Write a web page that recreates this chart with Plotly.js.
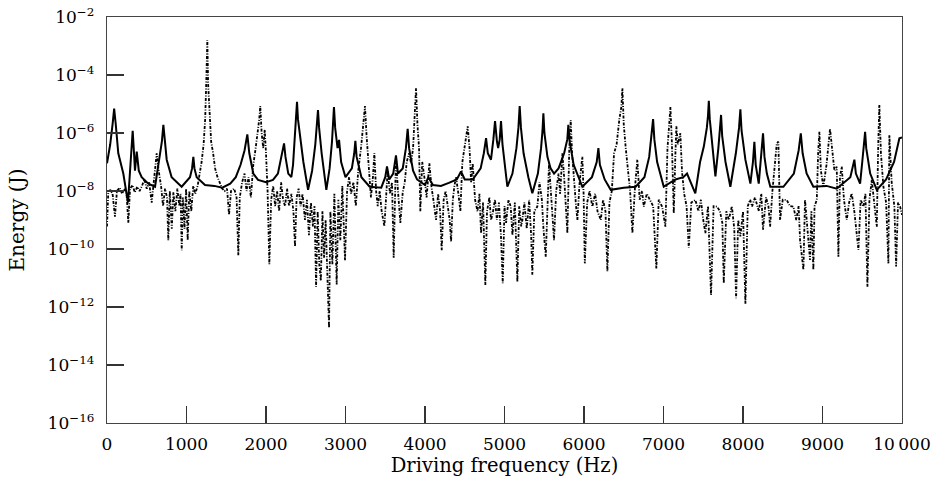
<!DOCTYPE html>
<html>
<head>
<meta charset="utf-8">
<script src="https://cdn.plot.ly/plotly-3.0.1.min.js"></script>
<style>html,body{margin:0;padding:0;background:#fff;}</style>
</head>
<body>
<div id="chart" style="width:935px;height:495px;"></div>
<script>
// Solid curve: driving frequency (Hz) and energy (J)
const solidFreq = [
  0,40,70,90,110,142,205,264,290,310,323,340,352,374,400,436,520,604,667,690,709,725,751,813,939,
  1044,1070,1086,1100,1128,1233,1350,1450,1550,1620,1680,1730,1765,1790,1840,1900,2000,
  2088,2150,2190,2215,2227,2245,2280,2319,2340,2365,2380,2390,2402,2430,2470,2529,2580,2620,2640,2654,2668,2700,2759,2800,2830,2845,2855,2870,2900,2919,2945,3000,
  3080,3110,3124,3140,3200,3304,3450,3500,3522,3550,3600,3635,3660,3720,3760,3782,3800,3850,3900,4000,
  4042,4100,4200,4300,4400,4453,4500,4600,4700,4740,4768,4790,4830,4860,4881,4905,4920,4940,4956,4975,4994,
  5036,5100,5150,5175,5191,5207,5240,5300,5350,5420,5460,5478,5489,5502,5540,5580,5623,5680,5750,5790,5803,5820,5870,5979,
  6100,6160,6181,6200,6260,6336,6500,6650,6760,6820,6850,6869,6885,6920,7003,
  7150,7250,7296,7400,7460,7507,7545,7560,7570,7582,7610,7653,7690,7712,7724,7738,7780,7841,7910,7950,7967,7982,
  8030,8093,8125,8143,8160,8198,8230,8252,8270,8300,8344,8508,8640,8700,8727,8750,8800,8885,
  9050,9179,9350,9390,9401,9420,9473,9500,9525,9536,9550,9600,9683,9800,9900,9967,10000
];
const solidEnergy = [
  9e-8,4e-7,2e-6,7e-6,2e-6,2e-7,4e-8,4e-9,5e-8,3e-7,1.2e-6,2e-7,5e-8,2.3e-7,5e-8,3e-8,1.8e-8,1.4e-8,2e-7,5e-7,1.9e-6,5e-7,1.2e-7,3e-8,1.4e-8,
  3e-8,6e-8,1.5e-7,6e-8,3e-8,1.6e-8,1.5e-8,1.3e-8,1.8e-8,3e-8,8e-8,2.5e-7,9e-7,2e-7,4e-8,2.4e-8,2e-8,
  2.4e-8,4e-8,1.2e-7,3e-7,4.4e-7,1.5e-7,4e-8,3e-8,8e-8,8e-7,3e-6,1.2e-5,3e-6,6e-7,1e-7,1.1e-8,5e-8,4e-7,1.6e-6,6.2e-6,1.5e-6,2e-7,1.1e-8,6e-8,5e-7,2e-6,7.8e-6,1.5e-6,3e-7,5.8e-7,1e-7,3e-8,
  6e-8,2e-7,5.4e-7,1.5e-7,3e-8,1.4e-8,1.3e-8,3e-8,7e-8,2.5e-8,4e-8,1.7e-7,4e-8,6e-8,3e-7,1.4e-6,3e-7,5e-8,2.5e-8,1.6e-8,
  3e-8,1.6e-8,1.5e-8,1.9e-8,2.5e-8,4.7e-8,2.5e-8,2.5e-8,6e-8,2e-7,6.6e-7,2e-7,1.2e-7,6e-7,2.6e-6,5e-7,3e-7,6e-7,2.6e-6,4e-7,1.2e-7,
  1.4e-8,4e-8,3e-7,1.5e-6,8.5e-6,1.5e-6,2e-7,3e-8,8.3e-9,4e-8,3e-7,1.2e-6,4.8e-6,1e-6,1.5e-7,6e-8,4e-8,6e-8,2e-7,6e-7,1.9e-6,5e-7,8e-8,1.4e-8,
  3e-8,1e-7,3e-7,8e-8,2.5e-8,1.1e-8,1.3e-8,1.4e-8,3e-8,1.5e-7,7e-7,3e-6,6e-7,1e-7,1.4e-8,
  2.5e-8,3e-8,4e-8,8.3e-9,1e-7,3.4e-7,1.5e-6,4e-6,1.3e-5,3e-6,4e-7,3.2e-8,3e-7,1.2e-6,4.2e-6,8e-7,1e-7,1.4e-8,2e-7,1.5e-6,6.6e-6,1.2e-6,
  1.2e-7,1.8e-8,1e-7,5e-7,8e-8,1.8e-8,1.5e-7,9.8e-7,1.5e-7,4e-8,1.4e-8,1.4e-8,4e-8,2.5e-7,9.8e-7,2e-7,4e-8,1.4e-8,
  1.5e-8,1.2e-8,3e-8,8e-8,1.2e-7,4e-8,1.8e-8,1e-7,4e-7,1.1e-6,3e-7,4e-8,1.1e-8,2.5e-8,1e-7,6.6e-7,7e-7
];

// Dash-dot curve: driving frequency (Hz) and energy (J)
const dashFreq = [
  0,15,40,70,100,125,160,190,220,245,268,290,320,350,380,410,440,470,500,530,562,590,615,625,650,680,705,730,755,771,790,815,835,860,885,910,925,940,955,975,995,
  1015,1035,1060,1085,1110,1140,1165,1190,1215,1235,1250,1262,1272,1290,1310,1335,1360,1390,1420,1450,1480,1510,1535,1560,1600,1630,1652,1670,1700,1730,1755,1780,1810,1840,1870,1895,1915,1928,1945,1965,1984,2000,
  2020,2042,2065,2090,2115,2140,2165,2190,2215,2240,2265,2290,2320,2345,2365,2385,2410,2435,2460,2490,2515,2540,2565,2590,2610,2630,2650,2670,2690,2710,2730,2750,2770,2793,2810,2835,2860,2889,2910,2935,2960,2994,
  3020,3045,3070,3100,3130,3160,3195,3225,3245,3265,3290,3320,3345,3363,3385,3405,3430,3455,3489,3510,3530,3560,3585,3606,3625,3635,3660,3690,3719,3745,3770,3800,3824,3850,3870,3887,3905,3925,3941,3965,3992,
  4020,4055,4080,4110,4139,4165,4190,4210,4235,4260,4290,4310,4328,4350,4370,4390,4420,4445,4470,4500,4537,4560,4580,4600,4630,4660,4685,4705,4730,4759,4780,4810,4830,4852,4880,4905,4930,4955,4978,5000,
  5020,5050,5078,5100,5130,5162,5185,5210,5225,5250,5280,5310,5335,5350,5375,5413,5440,5470,5490,5519,5540,5560,5590,5623,5650,5680,5700,5728,5750,5775,5791,5815,5833,5850,5875,5900,5917,5945,5979,5995,
  6010,6040,6070,6105,6140,6170,6211,6240,6270,6294,6320,6350,6378,6410,6445,6470,6483,6500,6525,6550,6580,6609,6640,6671,6700,6730,6752,6790,6835,6870,6910,6940,6982,
  7024,7050,7070,7087,7105,7129,7150,7162,7180,7212,7233,7260,7290,7318,7350,7401,7440,7470,7500,7527,7560,7598,7630,7674,7710,7740,7758,7790,7821,7860,7890,7913,7940,7967,8000,
  8030,8060,8090,8114,8150,8200,8230,8252,8290,8320,8341,8370,8400,8425,8445,8466,8500,8551,8590,8634,8670,8700,8718,8760,8780,8802,8843,8860,8885,8900,8928,8945,8961,8980,
  9011,9050,9080,9095,9120,9150,9179,9200,9220,9242,9270,9305,9335,9368,9400,9452,9480,9515,9540,9565,9590,9620,9650,9683,9700,9715,9735,9766,9800,9829,9841,9870,9904,9926,9950,9976,10000
];
const dashEnergy = [
  6e-10,8e-9,1.1e-8,8e-9,1.3e-9,1e-8,1.3e-8,8e-9,1.1e-8,9e-9,8e-10,1.2e-8,1.6e-8,9e-9,1.4e-8,1e-8,1.5e-8,2.5e-8,1.2e-8,2e-8,4e-9,3e-8,1.2e-7,2e-7,5e-8,1.5e-8,3e-9,1.2e-8,6e-9,2e-10,1e-8,5e-10,9e-9,2e-9,1.2e-8,3e-9,8e-9,9e-11,6e-9,5e-10,1.2e-8,
  2e-10,1e-8,2e-9,1.5e-8,8e-9,1.5e-8,4e-8,1e-7,4e-7,3e-6,8e-5,1.6e-3,5e-5,4e-6,5e-7,2e-7,6e-8,3e-8,2e-8,1.2e-8,1e-8,1.2e-8,1.5e-9,1e-8,1.2e-8,6e-9,6e-11,6e-9,2e-8,4e-8,1e-8,3e-8,6e-9,8e-8,3e-7,1e-6,3e-6,8.5e-6,1e-6,3e-7,1.3e-6,2e-7,
  1e-8,3e-11,5e-9,1.5e-8,3e-9,1e-8,2e-9,2e-8,5e-9,3e-9,1.2e-8,3e-9,8e-9,2e-9,1.2e-10,6e-9,1.2e-8,3e-9,8e-9,1e-9,5e-9,3e-10,4e-9,6e-10,3e-9,5e-12,2e-9,3e-11,8e-12,2e-9,5e-11,1e-9,8e-12,1.9e-13,2e-9,3e-11,8e-9,6e-12,5e-9,2e-10,1.5e-8,4e-11,
  1e-8,3e-8,8e-9,2e-8,3e-9,5e-8,3e-7,2e-6,8.5e-6,8e-7,1e-7,6e-9,3e-8,2e-7,1e-8,3e-9,1e-8,2e-9,6e-10,1e-8,5e-8,8e-9,2e-8,5e-11,3e-8,1.5e-7,1e-8,8e-10,8.5e-9,2e-8,1e-7,2e-7,9e-8,3e-7,4e-6,3.5e-5,2e-6,3e-7,2e-9,1e-7,3e-8,
  6e-9,9e-8,1.5e-8,4e-9,1e-9,8e-9,2e-9,9e-11,5e-9,1e-8,3e-9,1e-9,1.8e-10,5e-9,1.5e-8,3e-8,8e-9,2e-9,1e-7,4e-7,1.7e-6,3e-7,2e-8,9e-8,5e-9,2e-9,8e-9,3.5e-10,4e-9,5.8e-12,2e-9,6e-9,1e-9,1.7e-9,5e-9,1e-9,4e-9,3e-10,6.6e-12,3e-9,
  8e-10,5e-9,2.9e-9,3e-10,4e-9,7.4e-12,3e-9,6e-10,1e-9,4e-9,5e-10,5e-9,3e-10,1.3e-11,2e-9,2.9e-9,2e-8,5e-9,5e-10,5.4e-11,3e-9,9e-8,5e-9,2e-10,1e-8,4e-8,8e-9,2e-7,3e-8,2e-9,3.5e-10,3e-7,2.8e-6,2e-7,2e-8,3e-9,1e-9,2e-8,1.5e-7,8e-9,
  3.2e-11,4e-9,1e-8,2.9e-9,8e-9,2e-9,1e-9,5e-9,2e-9,1.7e-11,4e-9,1e-8,2e-7,4e-7,3e-6,8e-6,3.5e-5,2e-6,3e-7,5e-8,1e-8,3.5e-10,1.2e-8,1.2e-7,5e-9,1e-8,2.9e-9,8e-9,4.9e-9,3e-9,2.1e-11,5e-9,2.9e-9,
  5.9e-10,3e-7,2e-6,7.8e-6,5e-7,1.7e-9,2e-7,1.7e-6,4e-7,9.8e-7,4.7e-8,8e-9,3e-9,1.1e-10,4e-9,4.9e-9,2e-9,5e-9,1e-9,3.5e-10,3e-9,2.6e-12,3e-9,2.9e-9,2e-9,8e-10,6.6e-12,2e-9,1e-9,3e-9,5e-10,2e-12,1e-9,2.7e-10,2e-9,
  1.3e-12,3e-9,5e-9,2.9e-9,6e-9,2e-9,8e-9,4.6e-10,6e-9,3e-9,5.9e-10,1e-8,8e-8,4.4e-7,5e-7,1e-9,5e-9,4.9e-9,3e-9,2.9e-9,1e-9,3e-9,2e-10,1.9e-11,5e-9,1e-9,4.2e-11,2e-9,1.9e-11,3e-9,4.9e-9,2e-7,1.1e-6,5e-8,
  1.4e-8,8e-8,4e-7,1.4e-6,3e-7,5e-8,6.9e-8,5.4e-11,3e-8,6.9e-8,5e-9,1e-9,4e-9,8.3e-9,2e-9,9.3e-11,5e-9,2.9e-9,8e-9,5e-12,5e-9,2.4e-8,4e-9,5.9e-10,3e-7,9.3e-6,2e-7,1.4e-8,4e-9,3.2e-11,8.5e-7,2e-8,2.9e-9,2.5e-11,4e-9,2.9e-9,1.5e-9
];

// Axis ticks
const xTickVals = [0,1000,2000,3000,4000,5000,6000,7000,8000,9000,10000];
const xTickText = ['0','1000','2000','3000','4000','5000','6000','7000','8000','9000','10\u2009000'];
const yTickVals = [1e-16,1e-14,1e-12,1e-10,1e-8,1e-6,1e-4,1e-2];
const yTickText = ['10<sup>\u221216</sup>','10<sup>\u221214</sup>','10<sup>\u221212</sup>','10<sup>\u221210</sup>','10<sup>\u22128</sup>','10<sup>\u22126</sup>','10<sup>\u22124</sup>','10<sup>\u22122</sup>'];

const traces = [
  {x: dashFreq, y: dashEnergy, type: 'scatter', mode: 'lines',
   line: {color: '#000', width: 1.8, dash: '3px,1.5px,1px,1.5px'}, hoverinfo: 'skip'},
  {x: solidFreq, y: solidEnergy, type: 'scatter', mode: 'lines',
   line: {color: '#000', width: 2}, hoverinfo: 'skip'}
];

const axisCommon = {
  showline: true, linecolor: '#444', linewidth: 1.3, mirror: true,
  ticks: 'inside', ticklen: 17, tickwidth: 1.2, tickcolor: '#333',
  showgrid: false, zeroline: false,
  tickfont: {family: 'DejaVu Serif, serif', size: 17, color: '#000'}
};

const layout = {
  width: 935, height: 495,
  margin: {l: 107, r: 33, t: 17, b: 72},
  paper_bgcolor: '#fff', plot_bgcolor: '#fff',
  showlegend: false,
  font: {family: 'DejaVu Serif, serif', size: 17, color: '#000'},
  xaxis: Object.assign({}, axisCommon, {
    range: [0, 10000], tickmode: 'array', tickvals: xTickVals, ticktext: xTickText,
    ticklabelstandoff: 5,
    title: {text: 'Driving frequency (Hz)', standoff: 2, font: {family: 'DejaVu Serif, serif', size: 19.5}}
  }),
  yaxis: Object.assign({}, axisCommon, {
    type: 'log', range: [-16, -2], tickmode: 'array', tickvals: yTickVals, ticktext: yTickText,
    ticklabelstandoff: 8,
    title: {text: 'Energy (J)', standoff: 17, font: {family: 'DejaVu Serif, serif', size: 20}}
  })
};

Plotly.newPlot('chart', traces, layout, {staticPlot: true, displayModeBar: false});
</script>
</body>
</html>
